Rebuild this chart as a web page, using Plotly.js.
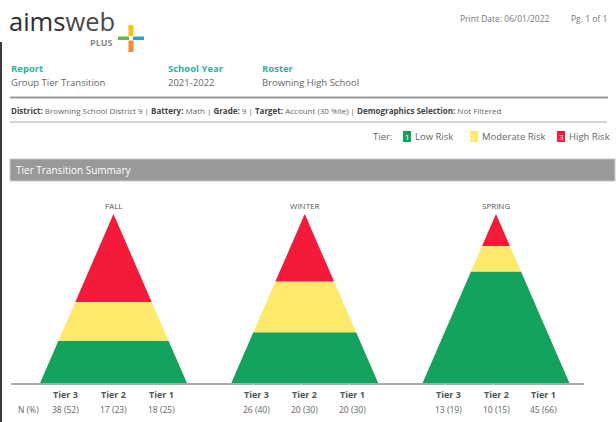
<!DOCTYPE html>
<html>
<head>
<meta charset="utf-8">
<script src="https://cdn.plot.ly/plotly-3.0.1.min.js"></script>
<style>html,body{margin:0;padding:0;background:#fff;}#chart{width:616px;height:422px;}</style>
</head>
<body>
<div id="chart"></div>
<script>
// ---- data ----
const seasons = ['FALL', 'WINTER', 'SPRING'];
const tierNames = ['Tier 3', 'Tier 2', 'Tier 1'];
const tier3N = [38, 26, 13];
const tier3Pct = [52, 40, 19];
const tier2N = [17, 20, 10];
const tier2Pct = [23, 30, 15];
const tier1N = [18, 20, 45];
const tier1Pct = [25, 30, 66];

// ---- style ----
const W = 616, H = 422;
const C_GREEN = '#13a35f', C_YELLOW = '#ffe96b', C_RED = '#f31a3a';
const FONT = 'Open Sans, Liberation Sans, sans-serif';
const X = px => px / W;
const Y = py => 1 - py / H;
const halfBase = 0.384;            // pyramid half-width at base, in season units
const hw = p => halfBase * (1 - p / 100);
const tierOffsets = [-0.25, 0, 0.25];

const traces = [];
seasons.forEach((s, i) => {
  const bands = [
    {p: tier1Pct[i], c: C_GREEN},
    {p: tier2Pct[i], c: C_YELLOW},
    {p: tier3Pct[i], c: C_RED}
  ];
  let b0 = 0;
  const total = tier1Pct[i] + tier2Pct[i] + tier3Pct[i];
  bands.forEach(b => {
    const lo = b0 / total * 100, hi = (b0 + b.p) / total * 100;
    traces.push({
      type: 'scatter', mode: 'lines', fill: 'toself',
      x: [i - hw(lo), i + hw(lo), i + hw(hi), i - hw(hi), i - hw(lo)],
      y: [lo, lo, hi, hi, lo],
      fillcolor: b.c, line: {width: 0, color: b.c}, hoverinfo: 'skip'
    });
    b0 += b.p;
  });
});

const ann = [];
const txt = (x, y, text, size, color, anchor, extra) => Object.assign({
  xref: 'paper', yref: 'paper', x: X(x), y: Y(y), text: text, showarrow: false,
  xanchor: anchor || 'left', yanchor: 'middle',
  font: {family: FONT, size: size, color: color}
}, extra || {});

// logo
ann.push(txt(7, 21, '<span style="color:#2e2e2e">aims</span><span style="color:#4a4a4a">web</span>', 25.5, '#333'));
ann.push(txt(88, 42.5, '<b>PLUS</b>', 9, '#8a8a8a'));
// print info
ann.push(txt(458, 18, 'Print Date: 06/01/2022', 8.5, '#777'));
ann.push(txt(569, 18, 'Pg. 1 of 1', 8.5, '#777'));
// header fields
ann.push(txt(9, 68, '<b>Report</b>', 9.5, '#2fb29b'));
ann.push(txt(9, 82, 'Group Tier Transition', 9.5, '#666'));
ann.push(txt(166, 68, '<b>School Year</b>', 9.5, '#2fb29b'));
ann.push(txt(166, 82, '2021-2022', 9.5, '#666'));
ann.push(txt(260, 68, '<b>Roster</b>', 9.5, '#2fb29b'));
ann.push(txt(260, 82, 'Browning High School', 9.5, '#666'));
// district line
ann.push(txt(9, 110, '<b><span style="color:#444">District:</span></b> Browning School District 9 | <b><span style="color:#444">Battery:</span></b> Math | <b><span style="color:#444">Grade:</span></b> 9 | <b><span style="color:#444">Target:</span></b> Account (30 %ile) | <b><span style="color:#444">Demographics Selection:</span></b> Not Filtered', 8, '#666'));
// legend
ann.push(txt(371, 136, 'Tier:', 9.5, '#666'));
ann.push(txt(407, 136.5, '1', 8, '#fff', 'center'));
ann.push(txt(413, 136, 'Low Risk', 9.5, '#666'));
ann.push(txt(474, 136.5, '2', 8, '#fff', 'center'));
ann.push(txt(480, 136, 'Moderate Risk', 9.5, '#666'));
ann.push(txt(561, 136.5, '3', 8, '#fff', 'center'));
ann.push(txt(567, 136, 'High Risk', 9.5, '#666'));
// section title
ann.push(txt(14, 170, 'Tier Transition Summary', 10, '#fff'));
// N (%)
ann.push(txt(28, 409, 'N (%)', 8.5, '#666', 'center'));

// season labels & tier tables
const tierN = [tier3N, tier2N, tier1N];
const tierP = [tier3Pct, tier2Pct, tier1Pct];
seasons.forEach((s, i) => {
  ann.push({xref: 'x', yref: 'y', x: i, y: 100, text: s, showarrow: false,
    xanchor: 'center', yanchor: 'bottom', yshift: 1,
    font: {family: FONT, size: 8, color: '#555'}});
  tierNames.forEach((t, k) => {
    ann.push({xref: 'x', yref: 'y', x: i + tierOffsets[k], y: 0, text: '<b>' + t + '</b>',
      showarrow: false, xanchor: 'center', yanchor: 'middle', yshift: -11,
      font: {family: FONT, size: 9, color: '#555'}});
    ann.push({xref: 'x', yref: 'y', x: i + tierOffsets[k], y: 0,
      text: tierN[k][i] + ' (' + tierP[k][i] + ')',
      showarrow: false, xanchor: 'center', yanchor: 'middle', yshift: -26,
      font: {family: FONT, size: 8.5, color: '#666'}});
  });
});

const rect = (x0, y0, x1, y1, color) => ({type: 'rect', xref: 'paper', yref: 'paper',
  x0: X(x0), x1: X(x1), y0: Y(y0), y1: Y(y1), fillcolor: color, line: {width: 0}, layer: 'below'});
const hline = (x0, x1, y, color, w) => ({type: 'line', xref: 'paper', yref: 'paper',
  x0: X(x0), x1: X(x1), y0: Y(y), y1: Y(y), line: {color: color, width: w}});

const shapes = [
  // plus sign in logo
  rect(128.5, 25, 133.5, 36, '#f6c21c'),
  rect(118, 36.5, 129, 40, '#62b946'),
  rect(133, 36.5, 144, 40, '#2f9fd8'),
  rect(128.5, 40.5, 133.5, 52, '#f28a3a'),
  // left border
  rect(0, 42, 2, 422, '#3a3a3a'),
  // header rules
  hline(10, 608, 97.5, '#9a9a9a', 2),
  hline(10, 607, 122, '#a8a8a8', 1),
  // legend boxes
  rect(403, 131, 411, 142, C_GREEN),
  rect(470, 131, 478, 142, C_YELLOW),
  rect(557, 131, 565, 142, C_RED),
  // title bar
  {type: 'rect', xref: 'paper', yref: 'paper', x0: X(10), x1: X(615), y0: Y(159), y1: Y(181),
   fillcolor: '#999999', line: {color: '#c8c8c8', width: 1}, layer: 'below'}
];

const cx0 = 113.5, pxPerUnit = 191.25;
const layout = {
  width: W, height: H, margin: {l: 0, r: 0, t: 0, b: 0},
  paper_bgcolor: '#fff', plot_bgcolor: 'rgba(0,0,0,0)', showlegend: false,
  xaxis: {domain: [X(11), X(584)], range: [(11 - cx0) / pxPerUnit, (584 - cx0) / pxPerUnit],
    showline: true, linecolor: '#aaaaaa', linewidth: 1.5, showgrid: false, zeroline: false,
    showticklabels: false, ticks: '', fixedrange: true},
  yaxis: {domain: [Y(383), Y(214)], range: [0, 100], visible: false, fixedrange: true},
  annotations: ann, shapes: shapes
};
Plotly.newPlot('chart', traces, layout, {staticPlot: true, displayModeBar: false});
</script>
</body>
</html>
